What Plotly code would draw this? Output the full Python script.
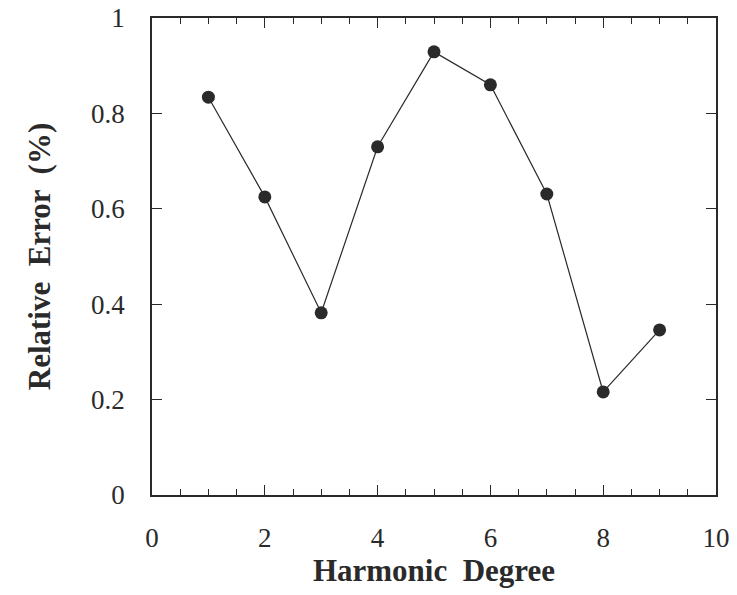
import plotly.graph_objects as go

harmonic_degree = [1, 2, 3, 4, 5, 6, 7, 8, 9]
relative_error = [0.834, 0.625, 0.382, 0.73, 0.929, 0.86, 0.631, 0.216, 0.346]

x_ticks = [0, 2, 4, 6, 8, 10]
y_ticks = [0, 0.2, 0.4, 0.6, 0.8, 1]
y_tick_labels = ["0", "0.2", "0.4", "0.6", "0.8", "1"]

ink = "#2a2a2a"
font_family = "Liberation Serif, Times New Roman, serif"

fig = go.Figure()
fig.add_trace(go.Scatter(
    x=harmonic_degree, y=relative_error, mode="lines+markers",
    line=dict(color=ink, width=1.2),
    marker=dict(color=ink, size=13),
    showlegend=False,
))

fig.update_layout(
    width=737, height=595,
    margin=dict(l=152, r=21, t=18, b=100, autoexpand=False),
    paper_bgcolor="white", plot_bgcolor="white",
    font=dict(family=font_family, color=ink, size=27),
)
fig.update_xaxes(
    range=[0, 10], tickvals=x_ticks, ticks="inside", ticklen=10, tickwidth=1.2,
    tickcolor=ink, showline=True, linecolor=ink, linewidth=1.5, mirror="allticks",
    showgrid=False, zeroline=False, ticklabelstandoff=18, automargin=False,
    ticklabeloverflow="allow", tickfont=dict(size=27),
    minor=dict(dtick=0.5, ticks="inside", ticklen=6, tickcolor=ink, tickwidth=1.2, showgrid=False),
    title=dict(text="<b>Harmonic  Degree</b>", font=dict(size=31), standoff=2),
)
fig.update_yaxes(
    range=[0, 1], tickvals=y_ticks, ticktext=y_tick_labels, ticks="inside", ticklen=10,
    tickwidth=1.2, tickcolor=ink, showline=True, linecolor=ink, linewidth=1.5,
    mirror="allticks", showgrid=False, zeroline=False, ticklabelstandoff=20, automargin=False,
    ticklabeloverflow="allow", tickfont=dict(size=27),
    title=dict(text="<b>Relative  Error  (%)</b>", font=dict(size=31), standoff=31),
)

fig.write_html(
    "out.html",
    config={"displayModeBar": False},
    post_script="document.body.style.margin='0';document.body.style.overflow='hidden';",
)
